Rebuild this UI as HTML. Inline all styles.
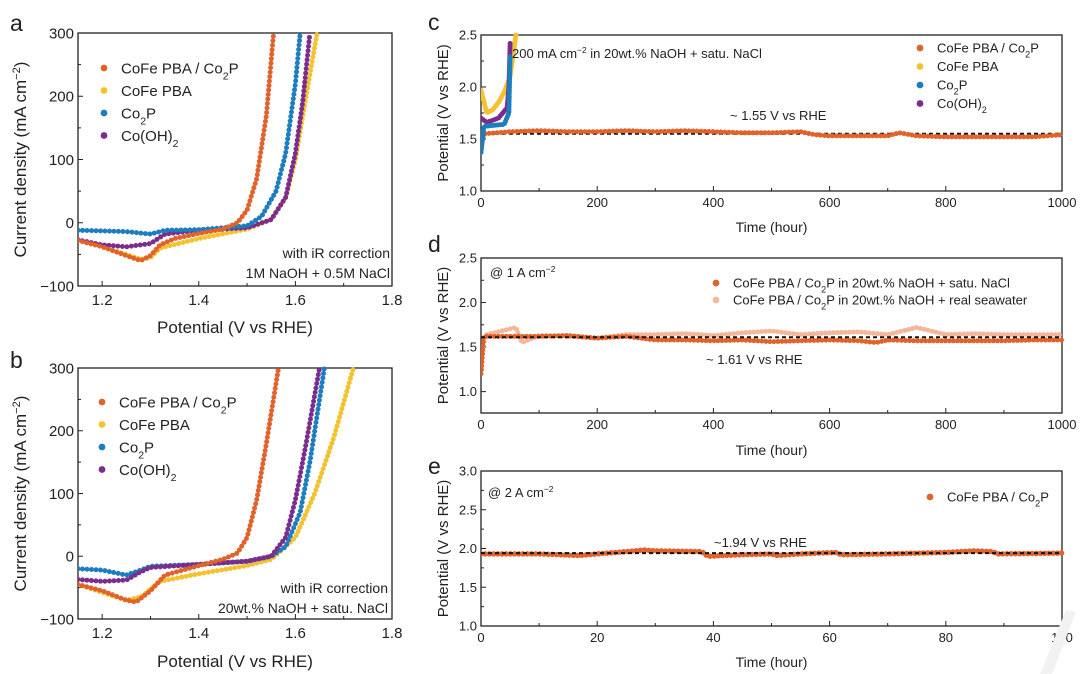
<!DOCTYPE html>
<html><head><meta charset="utf-8"><style>
body{margin:0;background:#fff}
svg{display:block;font-family:"Liberation Sans",sans-serif}
</style></head><body>
<svg id="fig" width="1080" height="674" viewBox="0 0 1080 674" xmlns="http://www.w3.org/2000/svg"></svg>
<script>
// ---- data ----
const aOrangeX=[1.15,1.2,1.25,1.28,1.3,1.32,1.35,1.4,1.45,1.48,1.5,1.52,1.54,1.555];
const aOrangeY=[-28,-38,-52,-60,-52,-35,-25,-17,-10,0,20,70,170,300];
const aYellowX=[1.15,1.2,1.25,1.28,1.3,1.32,1.4,1.5,1.55,1.58,1.6,1.62,1.645];
const aYellowY=[-28,-38,-50,-58,-55,-40,-25,-10,5,40,100,190,300];
const aBlueX=[1.15,1.25,1.3,1.33,1.4,1.5,1.53,1.56,1.58,1.6,1.61];
const aBlueY=[-12,-14,-18,-12,-11,-5,10,50,110,220,300];
const aPurpleX=[1.15,1.2,1.25,1.3,1.33,1.4,1.5,1.55,1.58,1.6,1.615,1.63];
const aPurpleY=[-27,-35,-38,-33,-18,-12,-8,5,40,110,190,300];
const bOrangeX=[1.15,1.2,1.25,1.27,1.3,1.33,1.4,1.45,1.48,1.5,1.52,1.54,1.565];
const bOrangeY=[-45,-55,-70,-73,-55,-30,-15,-5,5,30,90,180,300];
const bYellowX=[1.15,1.25,1.28,1.32,1.4,1.5,1.55,1.6,1.64,1.68,1.72];
const bYellowY=[-45,-70,-65,-40,-28,-15,-5,30,100,190,300];
const bBlueX=[1.15,1.2,1.25,1.28,1.3,1.4,1.5,1.55,1.58,1.61,1.63,1.66];
const bBlueY=[-20,-22,-30,-22,-16,-13,-8,0,15,70,150,300];
const bPurpleX=[1.15,1.2,1.25,1.28,1.3,1.4,1.5,1.55,1.58,1.6,1.62,1.65];
const bPurpleY=[-37,-40,-38,-25,-18,-13,-8,0,30,90,170,300];
const lvXTicks=[1.2,1.4,1.6,1.8];
const lvYTicks=[-100,0,100,200,300];

const cOrangeT=[0,5,50,100,150,200,250,300,350,400,450,500,550,575,600,650,700,720,750,800,850,900,950,1000];
const cOrangeV=[1.45,1.55,1.57,1.58,1.57,1.57,1.58,1.57,1.58,1.57,1.56,1.56,1.57,1.54,1.53,1.53,1.53,1.56,1.53,1.52,1.52,1.52,1.52,1.54];
const cYellowT=[0,10,20,30,40,50,55,60];
const cYellowV=[1.97,1.75,1.78,1.85,1.95,2.1,2.3,2.5];
const cBlueT=[0,5,20,40,48,50];
const cBlueV=[1.37,1.62,1.63,1.64,1.75,2.3];
const cPurpleT=[0,10,30,45,48,50];
const cPurpleV=[1.7,1.66,1.7,1.8,2.0,2.42];
const cRef=1.55;

const dDarkT=[0,5,50,100,150,200,250,300,350,400,450,500,550,600,650,680,700,750,800,850,900,950,1000];
const dDarkV=[1.2,1.62,1.62,1.62,1.63,1.6,1.62,1.58,1.58,1.57,1.58,1.56,1.57,1.58,1.57,1.55,1.58,1.57,1.57,1.57,1.57,1.58,1.58];
const dLightT=[10,60,70,100,150,200,250,300,350,400,450,500,550,600,650,700,750,800,850,900,950,1000];
const dLightV=[1.64,1.72,1.55,1.63,1.62,1.6,1.64,1.64,1.65,1.63,1.66,1.68,1.64,1.66,1.67,1.64,1.72,1.64,1.65,1.64,1.64,1.64];
const dRef=1.61;

const eT=[0,10,17,20,25,28,30,38,39,45,50,51,55,61,62,70,80,85,88,89,100];
const eV=[1.93,1.93,1.91,1.93,1.96,1.98,1.97,1.96,1.9,1.92,1.93,1.91,1.93,1.95,1.92,1.93,1.95,1.97,1.96,1.93,1.94];
const eRef=1.94;

const OR='#e0632b',YE='#f2c230',BL='#1c7dbf',PU='#7b2d8e',LO='#f4b79c';
const svg=document.getElementById('fig');
const NS='http://www.w3.org/2000/svg';
function mk(tag,attrs,parent){const e=document.createElementNS(NS,tag);for(const k in attrs)e.setAttribute(k,attrs[k]);(parent||svg).appendChild(e);return e;}
function txt(s,x,y,size,anchor,parent){const t=mk('text',{x:x,y:y,'font-size':size,'text-anchor':anchor||'start',fill:'#222'},parent);t.innerHTML=s;return t;}

function axes(p){
  const g=mk('g',{});
  
  
  const sx=v=>p.x0+(v-p.xmin)/(p.xmax-p.xmin)*(p.x1-p.x0);
  const sy=v=>p.y1-(v-p.ymin)/(p.ymax-p.ymin)*(p.y1-p.y0);
  const frame=mk('rect',{x:p.x0,y:p.y0,width:p.x1-p.x0,height:p.y1-p.y0,fill:'none',stroke:'#222','stroke-width':1.3},g);
  
  
  p.xt.forEach((v,i)=>{const X=sx(v);mk('line',{x1:X,x2:X,y1:p.y1,y2:p.y1-5,stroke:'#222'},g);
    const l=txt(p.xl?p.xl[i]:String(v),X,p.y1+p.xlabOff,p.tf,'middle',g);
    
    
    if(i<p.xt.length-1){const m=sx((v+p.xt[i+1])/2);mk('line',{x1:m,x2:m,y1:p.y1,y2:p.y1-3,stroke:'#222'},g);}});
  p.yt.forEach((v,i)=>{const Y=sy(v);mk('line',{x1:p.x0,x2:p.x0+5,y1:Y,y2:Y,stroke:'#222'},g);
    const l=txt(p.yl?p.yl[i]:String(v),p.x0-4,Y+p.tf*0.35,p.tf,'end',g);
    
    
    if(i<p.yt.length-1){const m=sy((v+p.yt[i+1])/2);mk('line',{x1:p.x0,x2:p.x0+3,y1:m,y2:m,stroke:'#222'},g);}});
  const xt=txt(p.xtitle,(p.x0+p.x1)/2,p.xtY,p.af,'middle',g);
  
  
  const yt=txt(p.ytitle,0,0,p.yf||p.af,'middle',g);
  yt.setAttribute('transform','translate('+p.ytX+','+((p.y0+p.y1)/2)+') rotate(-90)');
  
  
  const lt=txt(p.letter,p.letX,p.letY,23,'start',g);
  
  
  const clipId='clip'+p.letter;
  const cp=mk('clipPath',{id:clipId},g);mk('rect',{x:p.x0,y:p.y0-6,width:p.x1-p.x0+3,height:p.y1-p.y0+6},cp);
  const plot=mk('g',{'clip-path':'url(#'+clipId+')'},g);
  return {g,sx,sy,plot};
}
function series(ax,xs,ys,color,name,w,gap){
  let d='';xs.forEach((x,i)=>{d+=(i?'L':'M')+ax.sx(x).toFixed(1)+' '+ax.sy(ys[i]).toFixed(1);});
  const p=mk('path',{d:d,fill:'none',stroke:color,'stroke-width':w||5,'stroke-linecap':'round','stroke-dasharray':'0 '+(gap||4.5)},ax.plot);
  
  
  return p;
}
function refLine(ax,v,x0,x1){
  const l=mk('line',{x1:ax.sx(x0),x2:ax.sx(x1),y1:ax.sy(v),y2:ax.sy(v),stroke:'#111','stroke-width':2,'stroke-dasharray':'4 3'},ax.plot);
  
  
}
function legend(items,x,y0,dy,size,parent){
  items.forEach((it,i)=>{const y=y0+i*dy;
    const c=mk('circle',{cx:x,cy:y,r:3.4,fill:it[0]},parent);
    
    
    const t=txt(it[1],x+17,y+size*0.36,size,'start',parent);
    
    });
}
const S2='<tspan baseline-shift="sub" font-size="70%">2</tspan>';
const SUP='<tspan baseline-shift="super" font-size="65%">−2</tspan>';
const CU='Current density (mA cm'+SUP+')';

// panel a
const A=axes({name:'panel-a',letter:'a',letX:10,letY:31,x0:78,x1:392,y0:33,y1:286,xmin:1.15,xmax:1.8,ymin:-100,ymax:300,
  xt:lvXTicks,yt:lvYTicks,yl:['−100','0','100','200','300'],xl:['1.2','1.4','1.6','1.8'],tf:15,af:17,xlabOff:19,xtitle:'Potential (V vs RHE)',xtY:333,ytitle:CU,ytX:26});
series(A,aYellowX,aYellowY,YE,'series-cofe-pba');
series(A,aPurpleX,aPurpleY,PU,'series-coOH2');
series(A,aBlueX,aBlueY,BL,'series-co2p');
series(A,aOrangeX,aOrangeY,OR,'series-cofe-pba-co2p');
legend([[OR,'CoFe PBA / Co'+S2+'P'],[YE,'CoFe PBA'],[BL,'Co'+S2+'P'],[PU,'Co(OH)'+S2]],104,68,22.5,15,A.g);
txt('with iR correction',390,258,14,'end',A.g);
txt('1M NaOH + 0.5M NaCl',390,278,14,'end',A.g);

// panel b
const B=axes({name:'panel-b',letter:'b',letX:10,letY:368,x0:78,x1:392,y0:368,y1:619,xmin:1.15,xmax:1.8,ymin:-100,ymax:300,
  xt:lvXTicks,yt:lvYTicks,yl:['−100','0','100','200','300'],xl:['1.2','1.4','1.6','1.8'],tf:15,af:17,xlabOff:19,xtitle:'Potential (V vs RHE)',xtY:667,ytitle:CU,ytX:26});
series(B,bYellowX,bYellowY,YE,'series-cofe-pba');
series(B,bBlueX,bBlueY,BL,'series-co2p');
series(B,bPurpleX,bPurpleY,PU,'series-coOH2');
series(B,bOrangeX,bOrangeY,OR,'series-cofe-pba-co2p');
legend([[OR,'CoFe PBA / Co'+S2+'P'],[YE,'CoFe PBA'],[BL,'Co'+S2+'P'],[PU,'Co(OH)'+S2]],102,402,22.5,15,B.g);
txt('with iR correction',388,593,14,'end',B.g);
txt('20wt.% NaOH + satu. NaCl',388,613,14,'end',B.g);

const PT='Potential (V vs RHE)';
// panel c
const C=axes({name:'panel-c',letter:'c',letX:428,letY:30,x0:481,x1:1062,y0:35,y1:191,xmin:0,xmax:1000,ymin:1.0,ymax:2.5,
  xt:[0,200,400,600,800,1000],yt:[1.0,1.5,2.0,2.5],yl:['1.0','1.5','2.0','2.5'],tf:13,af:14,yf:15,xlabOff:16,xtitle:'Time (hour)',xtY:232,ytitle:PT,ytX:448});
refLine(C,cRef,0,1000);
series(C,cOrangeT,cOrangeV,OR,'series-cofe-pba-co2p',5,4);
series(C,cYellowT,cYellowV,YE,'series-cofe-pba',5,2.5);
series(C,cPurpleT,cPurpleV,PU,'series-coOH2',5,2.5);
series(C,cBlueT,cBlueV,BL,'series-co2p',5,2.5);
legend([[OR,'CoFe PBA / Co'+S2+'P'],[YE,'CoFe PBA'],[BL,'Co'+S2+'P'],[PU,'Co(OH)'+S2]],920,48,18.5,13,C.g);
txt('200 mA cm'+SUP+' in 20wt.% NaOH + satu. NaCl',512,58,13,'start',C.g);
txt('~ 1.55 V vs RHE',730,120,13,'start',C.g);

// panel d
const D=axes({name:'panel-d',letter:'d',letX:428,letY:252,x0:481,x1:1062,y0:258,y1:413,xmin:0,xmax:1000,ymin:0.76,ymax:2.5,
  xt:[0,200,400,600,800,1000],yt:[1.0,1.5,2.0,2.5],yl:['1.0','1.5','2.0','2.5'],tf:13,af:14,yf:15,xlabOff:16,xtitle:'Time (hour)',xtY:455,ytitle:PT,ytX:448});
series(D,dLightT,dLightV,LO,'series-real-seawater',5,4);
series(D,dDarkT,dDarkV,OR,'series-satu-nacl',5,4);
refLine(D,dRef,0,1000);
legend([[OR,'CoFe PBA / Co'+S2+'P in 20wt.% NaOH + satu. NaCl'],[LO,'CoFe PBA / Co'+S2+'P in 20wt.% NaOH + real seawater']],716,283,17,13,D.g);
txt('@ 1 A cm'+SUP,490,277,13,'start',D.g);
txt('~ 1.61 V vs RHE',706,364,13,'start',D.g);

// panel e
const E=axes({name:'panel-e',letter:'e',letX:428,letY:474,x0:481,x1:1062,y0:471,y1:626,xmin:0,xmax:100,ymin:1.0,ymax:3.0,
  xt:[0,20,40,60,80,100],yt:[1.0,1.5,2.0,2.5,3.0],yl:['1.0','1.5','2.0','2.5','3.0'],tf:13,af:14,yf:15,xlabOff:16,xtitle:'Time (hour)',xtY:667,ytitle:PT,ytX:448});
series(E,eT,eV,OR,'series-cofe-pba-co2p',5.5,4.2);
refLine(E,eRef,0,100);
legend([[OR,'CoFe PBA / Co'+S2+'P']],930,497,18,13,E.g);
txt('@ 2 A cm'+SUP,488,497,13,'start',E.g);
txt('~1.94 V vs RHE',714,547,13,'start',E.g);

const wm=mk('path',{d:'M1040 674 L1066 610 L1076 612 L1052 674 Z',fill:'#f2f2f2'});


</script>
</body></html>
